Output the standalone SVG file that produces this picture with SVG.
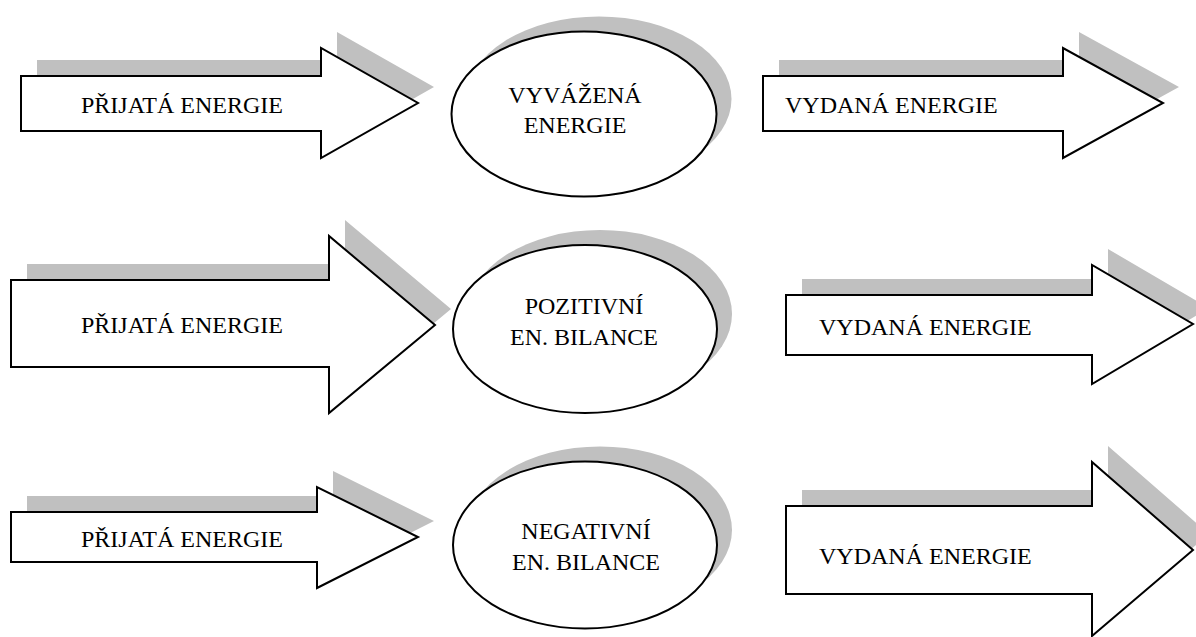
<svg xmlns="http://www.w3.org/2000/svg" width="1196" height="637" viewBox="0 0 1196 637">
<style>
.arrow{fill:#fff;stroke:#000;stroke-width:2;stroke-linejoin:miter}
.shadow{fill:#c0c0c0;stroke:none}
.ell{fill:#fff;stroke:#000;stroke-width:2}
.lbl{font-family:"Liberation Serif","Times New Roman",serif;font-size:24px;fill:#000}
.mid{text-anchor:middle}
</style>
<rect width="1196" height="637" fill="#fff"/>
<g id="connectors">
<g id="in1">
<polygon class="shadow" transform="translate(16,-16)" points="21,76 321,76 321,48 418,103 321,158 321,131 21,131"/>
<polygon class="arrow" points="21,76 321,76 321,48 418,103 321,158 321,131 21,131"/>
<text class="lbl" x="81" y="113">PŘIJATÁ ENERGIE</text>
</g>
<g id="out1">
<polygon class="shadow" transform="translate(16,-16)" points="763,76 1063,76 1063,48 1163,103 1063,158 1063,131 763,131"/>
<polygon class="arrow" points="763,76 1063,76 1063,48 1163,103 1063,158 1063,131 763,131"/>
<text class="lbl" x="785" y="113">VYDANÁ ENERGIE</text>
</g>
<g id="in2">
<polygon class="shadow" transform="translate(16,-16)" points="11,280 329,280 329,236 435,325 329,413 329,367 11,367"/>
<polygon class="arrow" points="11,280 329,280 329,236 435,325 329,413 329,367 11,367"/>
<text class="lbl" x="81" y="333">PŘIJATÁ ENERGIE</text>
</g>
<g id="out2">
<polygon class="shadow" transform="translate(16,-16)" points="786,295 1092,295 1092,265 1193,324 1092,384 1092,355 786,355"/>
<polygon class="arrow" points="786,295 1092,295 1092,265 1193,324 1092,384 1092,355 786,355"/>
<text class="lbl" x="819" y="335">VYDANÁ ENERGIE</text>
</g>
<g id="in3">
<polygon class="shadow" transform="translate(16,-16)" points="11,512 317,512 317,487 418,537 317,588 317,562 11,562"/>
<polygon class="arrow" points="11,512 317,512 317,487 418,537 317,588 317,562 11,562"/>
<text class="lbl" x="81" y="547">PŘIJATÁ ENERGIE</text>
</g>
<g id="out3">
<polygon class="shadow" transform="translate(16,-16)" points="786,506 1092,506 1092,462 1193,550 1092,636 1092,594 786,594"/>
<polygon class="arrow" points="786,506 1092,506 1092,462 1193,550 1092,636 1092,594 786,594"/>
<text class="lbl" x="819" y="564">VYDANÁ ENERGIE</text>
</g>
</g>
<g id="node-balanced">
<ellipse class="shadow" cx="599" cy="99" rx="132.5" ry="82.5"/>
<ellipse class="ell" cx="584" cy="114" rx="132.5" ry="82.5"/>
<text class="lbl mid" x="575" y="103">VYVÁŽENÁ</text>
<text class="lbl mid" x="575" y="133">ENERGIE</text>
</g>
<g id="node-positive">
<ellipse class="shadow" cx="600" cy="314" rx="132" ry="84"/>
<ellipse class="ell" cx="585" cy="329" rx="132" ry="84"/>
<text class="lbl mid" x="584" y="314">POZITIVNÍ</text>
<text class="lbl mid" x="584" y="345">EN. BILANCE</text>
</g>
<g id="node-negative">
<ellipse class="shadow" cx="600" cy="530" rx="132" ry="83.5"/>
<ellipse class="ell" cx="585" cy="545" rx="132" ry="83.5"/>
<text class="lbl mid" x="586" y="539">NEGATIVNÍ</text>
<text class="lbl mid" x="586" y="570">EN. BILANCE</text>
</g>
</svg>
